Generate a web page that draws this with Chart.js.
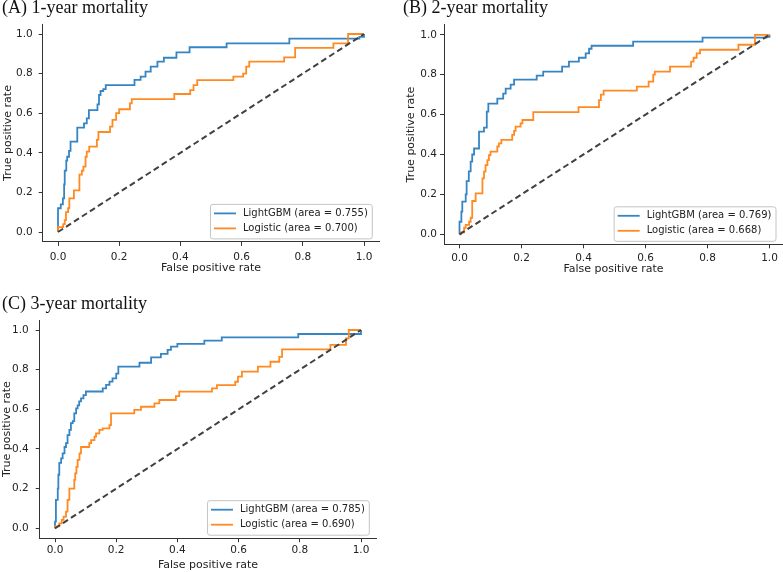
<!DOCTYPE html>
<html>
<head>
<meta charset="utf-8">
<script src="https://cdn.jsdelivr.net/npm/chart.js@4.4.1/dist/chart.umd.min.js"></script>
<style>
  html, body { margin: 0; padding: 0; background: #fff; overflow: hidden; }
  #page { position: relative; width: 783px; height: 572px; }
  canvas { position: absolute; }
  .ttl { position: absolute; font-family: "Liberation Serif", "Times New Roman", serif; font-size: 18px; line-height: 20px; color: #111; white-space: nowrap; }
</style>
</head>
<body>
<div id="page">
  <canvas id="cA" width="390" height="280" style="left:0px;top:0px;width:390px;height:280px"></canvas>
  <canvas id="cB" width="393" height="280" style="left:390px;top:0px;width:393px;height:280px"></canvas>
  <canvas id="cC" width="390" height="292" style="left:0px;top:280px;width:390px;height:292px"></canvas>
  <div class="ttl" style="left:2px;top:-3px">(A) 1-year mortality</div>
  <div class="ttl" style="left:403px;top:-3px">(B) 2-year mortality</div>
  <div class="ttl" style="left:2px;top:293px">(C) 3-year mortality</div>
</div>
<script>
// axis ticks
var tickVals = [0, 0.2, 0.4, 0.6, 0.8, 1.0];
var tickLabels = ['0.0', '0.2', '0.4', '0.6', '0.8', '1.0'];

// AUC per panel (A, B, C)
var aucLgbm = [0.755, 0.769, 0.785];
var aucLogistic = [0.700, 0.668, 0.690];

// chance line
var diagFpr = [0, 1];
var diagTpr = [0, 1];

// (A) 1-year
var fprLgbmA = [0, 0, 0.009, 0.016, 0.02, 0.022, 0.027, 0.03, 0.036, 0.041, 0.063, 0.085, 0.094, 0.101, 0.129, 0.134, 0.139, 0.148, 0.156, 0.25, 0.27, 0.286, 0.303, 0.325, 0.346, 0.387, 0.43, 0.551, 0.756, 0.985, 1];
var tprLgbmA = [0, 0.12, 0.14, 0.17, 0.24, 0.31, 0.36, 0.38, 0.41, 0.456, 0.527, 0.549, 0.574, 0.616, 0.645, 0.692, 0.712, 0.722, 0.742, 0.768, 0.785, 0.81, 0.835, 0.86, 0.88, 0.907, 0.933, 0.953, 0.977, 0.985, 1];
var fprLogA = [0, 0, 0.017, 0.022, 0.026, 0.033, 0.037, 0.052, 0.07, 0.078, 0.083, 0.09, 0.094, 0.102, 0.127, 0.132, 0.17, 0.178, 0.19, 0.2, 0.235, 0.241, 0.38, 0.432, 0.443, 0.455, 0.573, 0.605, 0.615, 0.625, 0.739, 0.775, 0.9, 0.948, 1];
var tprLogA = [0, 0.025, 0.04, 0.06, 0.1, 0.12, 0.17, 0.21, 0.29, 0.31, 0.33, 0.38, 0.406, 0.431, 0.465, 0.505, 0.532, 0.566, 0.6, 0.62, 0.65, 0.671, 0.697, 0.717, 0.742, 0.767, 0.785, 0.8, 0.835, 0.86, 0.882, 0.93, 0.953, 1, 1];

// (B) 2-year
var fprLgbmB = [0, 0, 0.006, 0.009, 0.02, 0.023, 0.03, 0.036, 0.041, 0.047, 0.063, 0.079, 0.088, 0.093, 0.122, 0.141, 0.149, 0.165, 0.176, 0.249, 0.27, 0.331, 0.353, 0.385, 0.407, 0.418, 0.426, 0.56, 0.784, 0.99, 1];
var tprLgbmB = [0, 0.063, 0.114, 0.164, 0.2, 0.267, 0.315, 0.364, 0.4, 0.43, 0.515, 0.535, 0.615, 0.655, 0.68, 0.705, 0.73, 0.75, 0.775, 0.795, 0.815, 0.84, 0.865, 0.885, 0.907, 0.93, 0.945, 0.966, 0.986, 0.99, 1];
var fprLogB = [0, 0.004, 0.015, 0.02, 0.031, 0.036, 0.041, 0.052, 0.074, 0.079, 0.084, 0.09, 0.095, 0.1, 0.122, 0.127, 0.135, 0.17, 0.176, 0.181, 0.197, 0.203, 0.238, 0.384, 0.45, 0.456, 0.465, 0.572, 0.61, 0.625, 0.63, 0.679, 0.747, 0.755, 0.765, 0.776, 0.9, 0.953, 1];
var tprLogB = [0, 0.01, 0.033, 0.047, 0.063, 0.083, 0.167, 0.205, 0.28, 0.314, 0.347, 0.372, 0.397, 0.414, 0.44, 0.456, 0.473, 0.498, 0.518, 0.54, 0.556, 0.573, 0.612, 0.637, 0.673, 0.7, 0.72, 0.74, 0.765, 0.8, 0.815, 0.84, 0.865, 0.885, 0.907, 0.925, 0.95, 1, 1];

// (C) 3-year
var fprLgbmC = [0, 0, 0.003, 0.009, 0.011, 0.014, 0.02, 0.025, 0.031, 0.036, 0.041, 0.047, 0.052, 0.058, 0.063, 0.069, 0.074, 0.079, 0.085, 0.093, 0.101, 0.156, 0.167, 0.178, 0.188, 0.2, 0.207, 0.276, 0.314, 0.346, 0.368, 0.379, 0.4, 0.488, 0.545, 0.795, 1];
var tprLgbmC = [0, 0.034, 0.143, 0.2, 0.27, 0.33, 0.353, 0.378, 0.41, 0.43, 0.47, 0.496, 0.53, 0.54, 0.58, 0.605, 0.62, 0.64, 0.655, 0.672, 0.69, 0.706, 0.723, 0.74, 0.756, 0.78, 0.815, 0.835, 0.862, 0.88, 0.9, 0.916, 0.93, 0.946, 0.963, 0.98, 1];
var fprLogC = [0, 0, 0.014, 0.022, 0.028, 0.036, 0.041, 0.047, 0.063, 0.066, 0.07, 0.074, 0.08, 0.085, 0.112, 0.118, 0.129, 0.134, 0.145, 0.156, 0.178, 0.183, 0.259, 0.281, 0.325, 0.341, 0.395, 0.406, 0.513, 0.529, 0.589, 0.598, 0.611, 0.663, 0.704, 0.733, 0.742, 0.9, 0.951, 0.96, 1];
var tprLogC = [0, 0.01, 0.025, 0.042, 0.059, 0.084, 0.143, 0.2, 0.244, 0.277, 0.31, 0.345, 0.378, 0.41, 0.43, 0.445, 0.462, 0.479, 0.496, 0.504, 0.52, 0.58, 0.597, 0.613, 0.63, 0.647, 0.667, 0.689, 0.706, 0.722, 0.739, 0.765, 0.79, 0.815, 0.84, 0.865, 0.902, 0.925, 0.958, 1, 1];

var BLUE = '#3585c4';
var ORANGE = '#ff8a22';

Chart.defaults.font.family = '"DejaVu Sans", sans-serif';
Chart.defaults.font.size = 10;
Chart.defaults.color = '#222';

function toPoints(xs, ys) {
  return xs.map(function (x, i) { return { x: x, y: ys[i] }; });
}

// matplotlib style legend in the lower right corner of the axes
var rocLegend = {
  id: 'rocLegend',
  afterDraw: function (chart) {
    var ctx = chart.ctx, area = chart.chartArea;
    var items = chart.data.datasets.filter(function (d) { return d.label; });
    ctx.save();
    ctx.font = '10px "DejaVu Sans"';
    var tw = 0;
    items.forEach(function (d) { tw = Math.max(tw, ctx.measureText(d.label).width); });
    var w = 4 + 22 + 7 + tw + 4, h = 34.5;
    var x = area.right - 7.5 - w, y = area.bottom - 3.5 - h;
    ctx.beginPath();
    ctx.roundRect(x + 0.5, y + 0.5, w, h, 2.5);
    ctx.fillStyle = 'rgba(255,255,255,0.85)';
    ctx.fill();
    ctx.strokeStyle = '#c4c4c4';
    ctx.lineWidth = 1;
    ctx.stroke();
    items.forEach(function (d, i) {
      var ly = y + 9.5 + i * 15;
      ctx.beginPath();
      ctx.moveTo(x + 4, ly);
      ctx.lineTo(x + 26, ly);
      ctx.strokeStyle = d.borderColor;
      ctx.lineWidth = d.borderWidth;
      ctx.stroke();
      ctx.fillStyle = '#222';
      ctx.textBaseline = 'middle';
      ctx.fillText(d.label, x + 33, ly);
    });
    ctx.restore();
  }
};

function rocChart(id, k, lgbmX, lgbmY, logX, logY, box) {
  new Chart(document.getElementById(id), {
    type: 'line',
    data: {
      datasets: [
        { label: 'LightGBM (area = ' + aucLgbm[k].toFixed(3) + ')', data: toPoints(lgbmX, lgbmY),
          borderColor: BLUE, borderWidth: 1.8, stepped: true, pointRadius: 0, fill: false, order: 2 },
        { label: 'Logistic (area = ' + aucLogistic[k].toFixed(3) + ')', data: toPoints(logX, logY),
          borderColor: ORANGE, borderWidth: 1.8, stepped: true, pointRadius: 0, fill: false, order: 1 },
        { label: '', data: toPoints(diagFpr, diagTpr),
          borderColor: '#414141', borderWidth: 2, borderDash: [6, 3.5], pointRadius: 0, fill: false, order: 0 }
      ]
    },
    options: {
      responsive: false,
      animation: false,
      events: [],
      layout: { padding: box.pad },
      plugins: { legend: { display: false }, tooltip: { enabled: false } },
      scales: {
        x: {
          type: 'linear', min: -0.05, max: box.xMax,
          afterBuildTicks: function (s) { s.ticks = tickVals.map(function (v) { return { value: v }; }); },
          afterFit: function (s) { s.height = box.xH; },
          ticks: { padding: box.xTickPad, maxRotation: 0, autoSkip: false, color: '#222',
                   font: { size: 10.5 },
                   callback: function (v, i) { return tickLabels[i]; } },
          grid: { drawOnChartArea: false, drawTicks: true, tickLength: 4, color: '#333' },
          border: { display: true, color: '#333', width: 1 },
          title: { display: true, text: 'False positive rate', font: { size: 11 }, color: '#222',
                   padding: { top: 0, bottom: box.xTitlePad } }
        },
        y: {
          type: 'linear', min: -0.05, max: 1.05,
          afterBuildTicks: function (s) { s.ticks = tickVals.map(function (v) { return { value: v }; }); },
          afterFit: function (s) { s.width = box.yW; },
          ticks: { padding: box.yTickPad, autoSkip: false, color: '#222',
                   font: { size: 10.5 },
                   callback: function (v, i) { return tickLabels[i]; } },
          grid: { drawOnChartArea: false, drawTicks: true, tickLength: 4, color: '#333' },
          border: { display: true, color: '#333', width: 1 },
          title: { display: true, text: 'True positive rate', font: { size: 11 }, color: '#222',
                   padding: { top: box.yTitlePad, bottom: 0 } }
        }
      }
    },
    plugins: [rocLegend]
  });
}

rocChart('cA', 0, fprLgbmA, tprLgbmA, fprLogA, tprLogA, {
  pad: { left: 0, top: 24.1, right: 10.7, bottom: 0 }, yW: 42.7, xH: 38.1, xMax: 1.05,
  xTickPad: 5.5, yTickPad: 6, xTitlePad: 5.5, yTitlePad: 1.7
});
rocChart('cB', 1, fprLgbmB, tprLgbmB, fprLogB, tprLogB, {
  pad: { left: 12.7, top: 24.8, right: 0, bottom: 0 }, yW: 41.3, xH: 35.7, xMax: 1.0435,
  xTickPad: 3.5, yTickPad: 3, xTitlePad: 4.2, yTitlePad: 1.7
});
rocChart('cC', 2, fprLgbmC, tprLgbmC, fprLogC, tprLogC, {
  pad: { left: 0, top: 40.1, right: 13.7, bottom: 0 }, yW: 39.7, xH: 33.8, xMax: 1.05,
  xTickPad: 2, yTickPad: 7, xTitlePad: 0.5, yTitlePad: 1
});
</script>
</body>
</html>
